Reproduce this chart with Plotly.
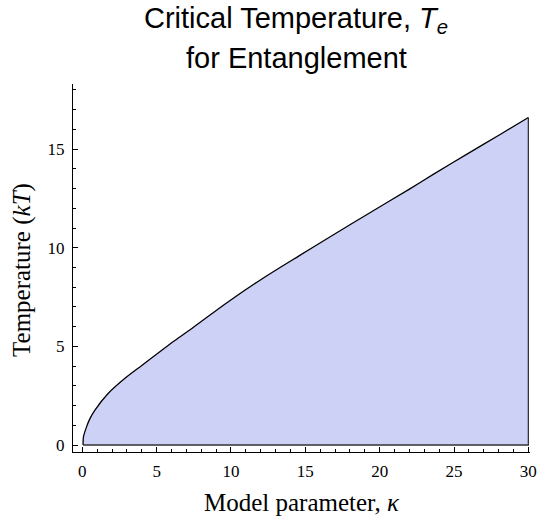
import plotly.graph_objects as go

kappa = [0.05, 0.08, 0.29, 0.52, 0.85, 1.75, 2.87, 4.0, 5.1, 6.2, 7.5, 9.7,
         12.0, 14.6, 16.7, 19.4, 22.0, 23.6, 25.9, 28.1, 30.0]
temp = [0.0, 0.42, 0.93, 1.35, 1.77, 2.62, 3.38, 4.03, 4.66, 5.28, 5.98, 7.2,
        8.38, 9.6, 10.57, 11.8, 12.97, 13.72, 14.76, 15.74, 16.6]

x_ticks = [0, 5, 10, 15, 20, 25, 30]
y_ticks = [0, 5, 10, 15]

fill_color = "#CCD1F5"

fig = go.Figure()
fig.add_trace(go.Scatter(
    x=kappa, y=temp, mode="lines", fill="tozeroy", fillcolor=fill_color,
    line=dict(color="black", width=1.3, shape="spline", smoothing=0.8),
    showlegend=False, hoverinfo="skip"))
fig.add_trace(go.Scatter(
    x=[kappa[-1], kappa[-1], kappa[0]], y=[temp[-1], 0, 0], mode="lines",
    line=dict(color="#333333", width=1.3), showlegend=False, hoverinfo="skip"))

serif = "Liberation Serif, Times New Roman, serif"
sans = "Liberation Sans, Arial, sans-serif"

axis_common = dict(showline=True, linecolor="black", linewidth=1, showgrid=False,
                   zeroline=False, ticks="inside", ticklen=5, tickwidth=1,
                   tickcolor="black", mirror=False, automargin=False,
                   tickfont=dict(family=serif, size=17, color="black"),
                   minor=dict(ticks="inside", ticklen=2.7, tickwidth=1,
                              tickcolor="black", dtick=1, showgrid=False))

fig.update_layout(
    width=540, height=518, autosize=False,
    margin=dict(l=73, r=10, t=84, b=66, autoexpand=False),
    paper_bgcolor="white", plot_bgcolor="white",
    xaxis=dict(range=[-0.626, 30.11], tickvals=x_ticks, ticklabelstandoff=4,
               **axis_common),
    yaxis=dict(range=[-0.355, 18.3], tickvals=y_ticks, ticklabelstandoff=4,
               **axis_common),
    annotations=[
        dict(text="Critical Temperature, <i>T</i><sub><i>e</i></sub>",
             xref="paper", yref="paper", x=0.488, y=1.1736, xanchor="center",
             yanchor="middle", showarrow=False,
             font=dict(family=sans, size=29, color="black")),
        dict(text="for Entanglement",
             xref="paper", yref="paper", x=0.488, y=1.071, xanchor="center",
             yanchor="middle", showarrow=False,
             font=dict(family=sans, size=29, color="black")),
        dict(text="Model parameter, <i>κ</i>",
             xref="paper", yref="paper", x=0.5, y=-0.136, xanchor="center",
             yanchor="middle", showarrow=False,
             font=dict(family=serif, size=25, color="black")),
        dict(text="Temperature (<i>kT</i>)", textangle=-90,
             xref="paper", yref="paper", x=-0.1116, y=0.4946, xanchor="center",
             yanchor="middle", showarrow=False,
             font=dict(family=serif, size=25, color="black")),
    ],
)

fig.write_html("out.html", config={"displayModeBar": False},
               post_script="document.body.style.margin='0px';")
